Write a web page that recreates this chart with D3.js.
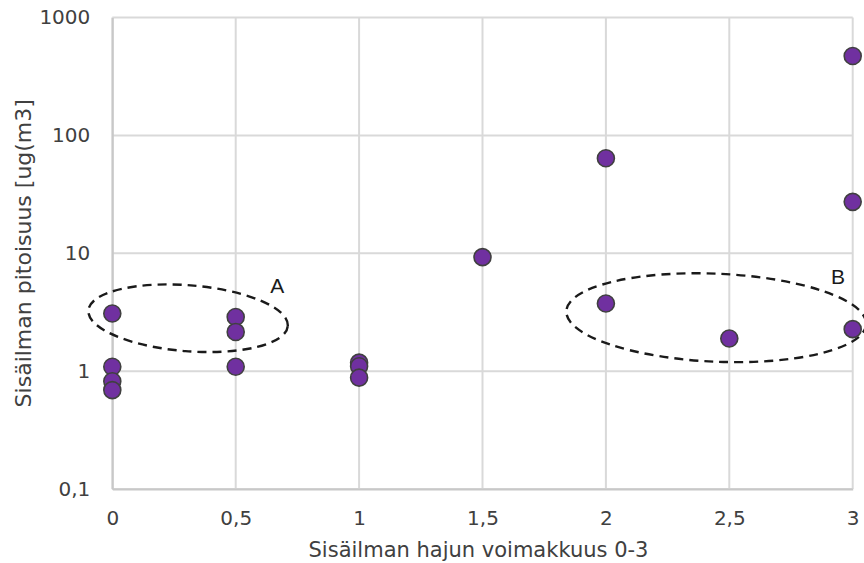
<!DOCTYPE html>
<html>
<head>
<meta charset="utf-8">
<script src="https://cdn.jsdelivr.net/npm/d3@7/dist/d3.min.js"></script>
<style>
  html, body { margin: 0; padding: 0; background: #fff; }
  svg { display: block; }
</style>
</head>
<body>
<svg id="chart" width="864" height="563"></svg>
<script>
// Odour intensity (0-3) vs indoor air concentration
const odourIntensity = [0, 0, 0, 0, 0.5, 0.5, 0.5, 1, 1, 1, 1.5, 2, 2, 2.5, 3, 3, 3];
const concentration  = [3.08, 1.09, 0.82, 0.69, 2.88, 2.15, 1.09, 1.18, 1.1, 0.88, 9.27, 64, 3.75, 1.89, 2.27, 27.3, 471];

const xTicks = [0, 0.5, 1, 1.5, 2, 2.5, 3];
const yTicks = [0.1, 1, 10, 100, 1000];

const xTitle = "Sisäilman hajun voimakkuus 0-3";
const yTitle = "Sisäilman pitoisuus [ug(m3]";

// Dashed groupings: centre in data units
const groupNames = ["A", "B"];
const groupCx = [0.307, 2.447];
const groupCy = [2.81, 2.84];
const groupLabelX = [0.668, 2.94];

const svg = d3.select("#chart");
const W = 864, H = 563;
const m = { left: 112.3, right: W - 852.7, top: 17.5, bottom: H - 489 };

const x = d3.scaleLinear().domain([0, 3]).range([m.left, W - m.right]);
const y = d3.scaleLog().domain([0.1, 1000]).range([H - m.bottom, m.top]);

const fmt = d => String(d).replace(".", ",");
const FONT = "'DejaVu Sans', Verdana, sans-serif";

// gridlines
const grid = svg.append("g");
grid.selectAll("line.v").data(xTicks).join("line")
  .attr("x1", d => x(d)).attr("x2", d => x(d))
  .attr("y1", y(1000)).attr("y2", y(0.1))
  .attr("stroke", "#d9d9d9").attr("stroke-width", 2);
grid.selectAll("line.h").data(yTicks).join("line")
  .attr("x1", x(0)).attr("x2", x(3))
  .attr("y1", d => y(d)).attr("y2", d => y(d))
  .attr("stroke", "#d9d9d9").attr("stroke-width", 2);

// axes
const xAxis = svg.append("g")
  .attr("transform", `translate(0,${y(0.1)})`)
  .call(d3.axisBottom(x).tickValues(xTicks).tickFormat(fmt).tickSize(0).tickPadding(22));
const yAxis = svg.append("g")
  .attr("transform", `translate(${x(0)},0)`)
  .call(d3.axisLeft(y).tickValues(yTicks).tickFormat(fmt).tickSize(0).tickPadding(22));

[xAxis, yAxis].forEach(g => {
  g.select(".domain").attr("stroke", "#c8c8c8").attr("stroke-width", 2);
  g.selectAll("text")
    .attr("font-family", FONT)
    .attr("font-size", 20)
    .attr("fill", "#404040");
});

// dashed ellipses
const groups = svg.append("g");
const shapes = [
  { rx: 100, ry: 33, rot: 4.5 },
  { rx: 150, ry: 44, rot: 2.5 }
];
groupNames.forEach((name, i) => {
  const cx = x(groupCx[i]), cy = y(groupCy[i]);
  groups.append("ellipse")
    .attr("cx", cx).attr("cy", cy)
    .attr("rx", shapes[i].rx).attr("ry", shapes[i].ry)
    .attr("transform", `rotate(${shapes[i].rot},${cx},${cy})`)
    .attr("fill", "none").attr("stroke", "#1a1a1a")
    .attr("stroke-width", 2.4).attr("stroke-dasharray", "9,6");
});

// points
svg.append("g").selectAll("circle")
  .data(odourIntensity.map((v, i) => [v, concentration[i]]))
  .join("circle")
  .attr("cx", d => x(d[0])).attr("cy", d => y(d[1]))
  .attr("r", 8.5)
  .attr("fill", "#7030a0")
  .attr("stroke", "#404040").attr("stroke-width", 1.6);

// group labels
const labelY = [293, 284];
groupNames.forEach((name, i) => {
  svg.append("text")
    .attr("x", x(groupLabelX[i])).attr("y", labelY[i])
    .attr("text-anchor", "middle")
    .attr("font-family", "'Liberation Sans', Arial, sans-serif")
    .attr("font-size", 21)
    .attr("fill", "#1a1a1a")
    .text(name);
});

// axis titles
svg.append("text")
  .attr("x", (x(0) + x(3)) / 2 - 4).attr("y", 557)
  .attr("text-anchor", "middle")
  .attr("font-family", FONT)
  .attr("font-size", 21).attr("fill", "#404040")
  .text(xTitle);
svg.append("text")
  .attr("transform", `translate(31,${(y(1000) + y(0.1)) / 2}) rotate(-90)`)
  .attr("text-anchor", "middle")
  .attr("font-family", FONT)
  .attr("font-size", 22).attr("fill", "#404040")
  .text(yTitle);
</script>
</body>
</html>
